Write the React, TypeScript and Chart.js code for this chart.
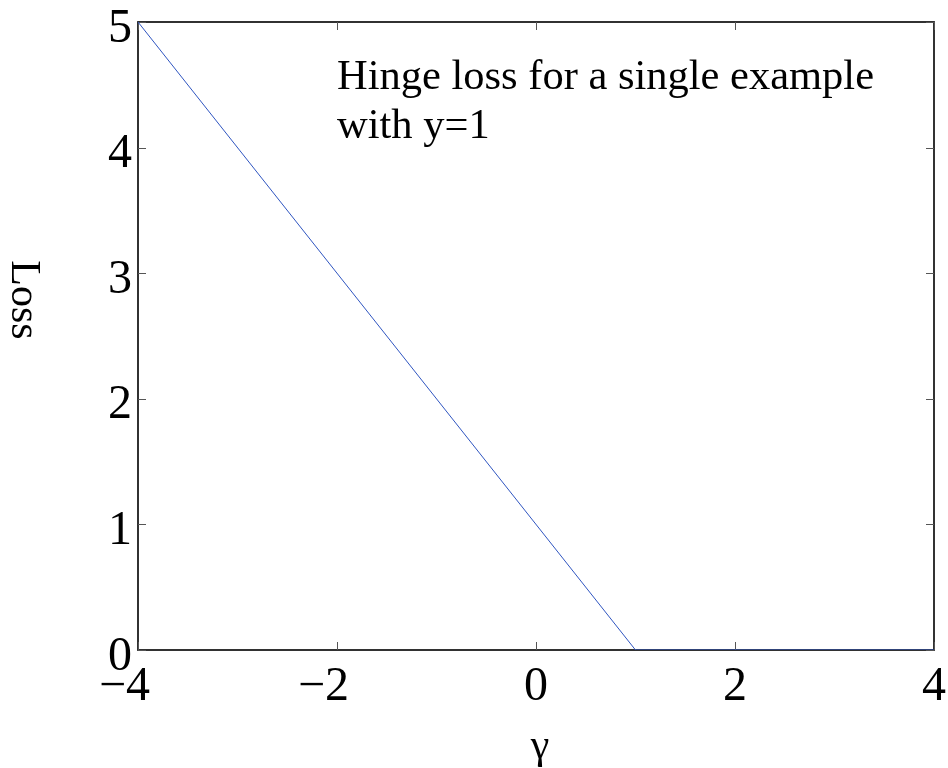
import React, { useEffect, useRef } from "react";
import { Chart, registerables } from "chart.js";

Chart.register(...registerables);

const gammaValues = [-4, 1, 4];
const lossValues = [5, 0, 0];
const xTickValues = [-4, -2, 0, 2, 4];
const yTickValues = [0, 1, 2, 3, 4, 5];
const annotationLines = ["Hinge loss for a single example", "with y=1"];
const xAxisTitle = "γ";
const yAxisTitle = "Loss";

const SERIF = '"Liberation Serif", "Times New Roman", serif';

const fmt = (v: number) => (v < 0 ? "\u2212" + Math.abs(v) : String(v));

const matlabAxes = {
  id: "matlabAxes",
  beforeDatasetsDraw(chart: any) {
    const { ctx, chartArea: a, scales } = chart;
    const x = scales.x;
    const y = scales.y;
    ctx.save();
    // box
    ctx.strokeStyle = "#1c1c1c";
    ctx.lineWidth = 1.8;
    ctx.strokeRect(a.left, a.top, a.right - a.left, a.bottom - a.top);
    // inward ticks
    ctx.lineWidth = 1;
    ctx.strokeStyle = "#555";
    const tl = 8;
    ctx.beginPath();
    xTickValues.forEach((v) => {
      const px = Math.round(x.getPixelForValue(v)) + 0.5;
      ctx.moveTo(px, a.bottom);
      ctx.lineTo(px, a.bottom - tl);
      ctx.moveTo(px, a.top);
      ctx.lineTo(px, a.top + tl);
    });
    yTickValues.forEach((v) => {
      const py = Math.round(y.getPixelForValue(v)) + 0.5;
      ctx.moveTo(a.left, py);
      ctx.lineTo(a.left + tl, py);
      ctx.moveTo(a.right, py);
      ctx.lineTo(a.right - tl, py);
    });
    ctx.stroke();

    // tick labels
    ctx.fillStyle = "#000";
    ctx.font = `48px ${SERIF}`;
    ctx.textBaseline = "alphabetic";
    xTickValues.forEach((v) => {
      const px = x.getPixelForValue(v);
      const digits = String(Math.abs(v));
      const w = ctx.measureText(digits).width;
      ctx.textAlign = "right";
      ctx.fillText(fmt(v), px + w / 2, a.bottom + 50);
    });
    yTickValues.forEach((v) => {
      const py = y.getPixelForValue(v);
      ctx.textAlign = "right";
      ctx.fillText(fmt(v), a.left - 6, py + 19.5);
    });

    // axis titles
    ctx.font = `42px ${SERIF}`;
    ctx.textAlign = "center";
    ctx.fillText(xAxisTitle, (a.left + a.right) / 2 + 4, 758);
    ctx.save();
    ctx.translate(12, 300);
    ctx.rotate(Math.PI / 2);
    ctx.textAlign = "center";
    ctx.textBaseline = "alphabetic";
    ctx.fillText(yAxisTitle, 0, 0);
    ctx.restore();

    // annotation
    ctx.font = `42.5px ${SERIF}`;
    ctx.textAlign = "left";
    annotationLines.forEach((line, i) => {
      ctx.fillText(line, 337, 89 + i * 49);
    });
    ctx.restore();
  },
};

export default function App() {
  const ref = useRef<HTMLCanvasElement | null>(null);
  useEffect(() => {
    if (!ref.current) return;
    const chart = new Chart(ref.current, {
      type: "line",
      data: {
        datasets: [
          {
            data: gammaValues.map((g, i) => ({ x: g, y: lossValues[i] })),
            borderColor: "#2f55c0",
            borderWidth: 1,
            pointRadius: 0,
            fill: false,
            tension: 0,
          },
        ],
      },
      options: {
        responsive: false,
        animation: false,
        layout: { padding: { left: 138, right: 14, top: 22, bottom: 118 } },
        plugins: { legend: { display: false }, tooltip: { enabled: false } },
        scales: {
          x: { type: "linear", min: -4, max: 4, display: false },
          y: { type: "linear", min: 0, max: 5, display: false },
        },
      },
      plugins: [matlabAxes],
    });
    return () => chart.destroy();
  }, []);
  return (
    <div style={{ position: "fixed", left: 0, top: 0, width: 948, height: 768, background: "#fff" }}>
      <canvas ref={ref} width={948} height={768} />
    </div>
  );
}
